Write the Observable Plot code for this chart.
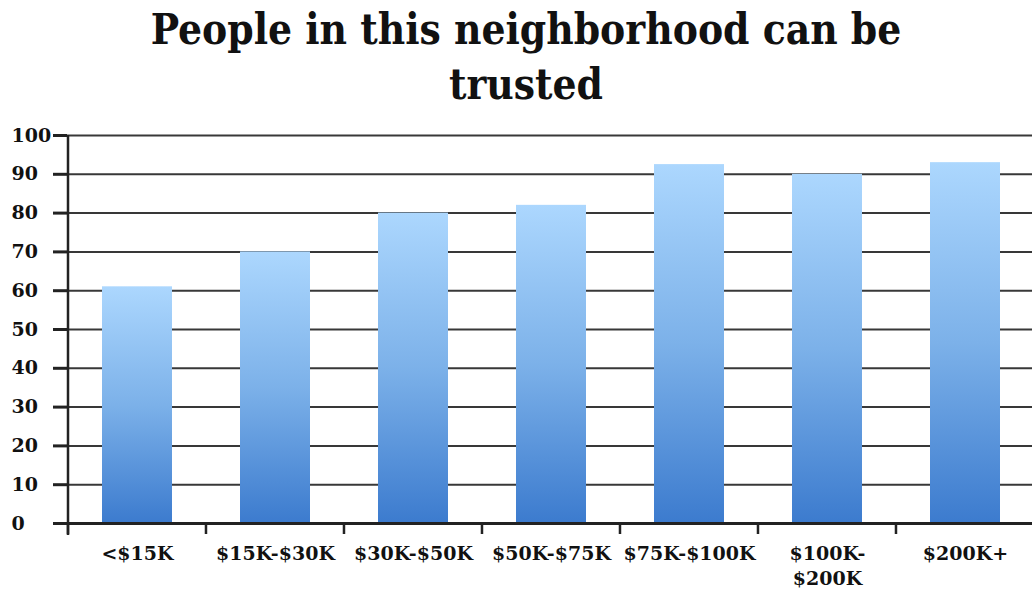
<!DOCTYPE html>
<html><head><meta charset="utf-8">
<script src="https://cdn.jsdelivr.net/npm/d3@7"></script>
<script src="https://cdn.jsdelivr.net/npm/@observablehq/plot@0.6"></script>
<style>
html,body{margin:0;padding:0;background:#fff;}
body{width:1032px;height:595px;overflow:hidden;}
#title{font-family:"DejaVu Serif Condensed","DejaVu Serif",serif;font-stretch:condensed;font-weight:bold;font-size:42px;line-height:55px;text-align:center;height:120px;padding-top:2px;padding-left:20px;box-sizing:border-box;color:#111;white-space:nowrap;}
#chart svg{display:block;overflow:visible;}
</style></head>
<body>
<div id="title">People in this neighborhood can be<br>trusted</div>
<div id="chart"></div>
<script>
const categories = ["<$15K","$15K-$30K","$30K-$50K","$50K-$75K","$75K-$100K","$100K-$200K","$200K+"];
const values = [61, 70, 80, 82, 92.5, 90, 93];
const yTicks = [0,10,20,30,40,50,60,70,80,90,100];
const xTickLabels = ["<$15K","$15K-$30K","$30K-$50K","$50K-$75K","$75K-$100K","$100K-\n$200K","$200K+"];

const data = categories.map((c,i)=>({category:c, value:values[i]}));
const labelOf = Object.fromEntries(categories.map((c,i)=>[c, xTickLabels[i]]));

const plot = Plot.plot({
  width:1032, height:475,
  marginLeft:67, marginRight:-2, marginTop:15, marginBottom:72,
  style:{fontFamily:"DejaVu Serif", fontWeight:"bold", fontSize:"19px", color:"#111", background:"transparent"},
  x:{domain:categories, paddingInner:0.493, paddingOuter:0.2465, label:null},
  y:{domain:[0,100], label:null},
  marks:[
    Plot.gridY(yTicks,{stroke:"#383838", strokeOpacity:1, strokeWidth:2}),
    Plot.barY(data,{x:"category", y:"value", fill:"url(#barGrad)"}),
    Plot.ruleY([0],{stroke:"#222", strokeWidth:3}),
    Plot.axisY(yTicks,{tickSize:14, tickPadding:42, textAnchor:"start", stroke:"#222", strokeWidth:3, label:null}),
    Plot.axisX({tickSize:0, tickPadding:19, tickFormat:d=>labelOf[d], lineHeight:1.3, label:null})
  ]
});
document.getElementById("chart").appendChild(plot);

const svg = d3.select(plot);
const defs = svg.insert("defs",":first-child");
const g = defs.append("linearGradient").attr("id","barGrad").attr("x1",0).attr("y1",0).attr("x2",0).attr("y2",1);
g.append("stop").attr("offset","0%").attr("stop-color","#acd7fe");
g.append("stop").attr("offset","50%").attr("stop-color","#7cb1e9");
g.append("stop").attr("offset","100%").attr("stop-color","#3c7bce");

const xs = plot.scale("x"), ys = plot.scale("y");
const step = xs.step, gap = step * xs.paddingInner;
const y0 = ys.apply(0), y100 = ys.apply(100);
const x0 = xs.range[0];
const extra = svg.append("g").attr("stroke","#222");
// y axis line
extra.append("line").attr("x1",x0+1).attr("x2",x0+1).attr("y1",y100).attr("y2",y0+12).attr("stroke-width",2.5);
// category boundary ticks
categories.forEach(c=>{
  const bx = xs.apply(c) - gap/2;
  extra.append("line").attr("x1",bx).attr("x2",bx).attr("y1",y0).attr("y2",y0+11).attr("stroke-width",2.5);
});
</script>
</body></html>
